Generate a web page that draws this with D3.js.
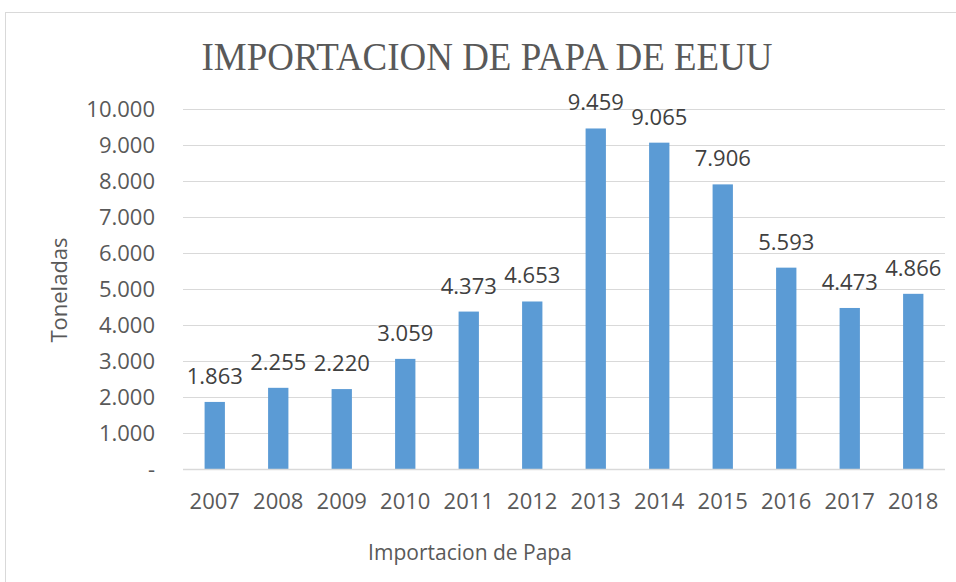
<!DOCTYPE html>
<html>
<head>
<meta charset="utf-8">
<script src="https://cdn.jsdelivr.net/npm/d3@7"></script>
<style>
  body { margin: 0; background: #fff; }
  svg { display: block; }
</style>
</head>
<body>
<div class="graph"></div>
<script>
const years = ["2007", "2008", "2009", "2010", "2011", "2012", "2013", "2014", "2015", "2016", "2017", "2018"];
const toneladas = [1863, 2255, 2220, 3059, 4373, 4653, 9459, 9065, 7906, 5593, 4473, 4866];
const yTicks = [0, 1000, 2000, 3000, 4000, 5000, 6000, 7000, 8000, 9000, 10000];

const plotVars = ({
    width: 956,
    height: 582,
    left: 183,
    right: 945,
    top: 109,
    bottom: 469
});

const fmt = v => v === 0 ? "-" : d3.format(",")(v).replace(/,/g, ".");

const svg = d3.select(".graph").append("svg")
    .attr("width", plotVars.width)
    .attr("height", plotVars.height);

// chart area border
svg.append("rect")
    .attr("x", 5.5).attr("y", 12.5)
    .attr("width", 1000).attr("height", 1000)
    .attr("fill", "none").attr("stroke", "#d9d9d9");

const x = d3.scaleBand().domain(years).range([plotVars.left, plotVars.right]).paddingInner(0.68).paddingOuter(0.34);
const y = d3.scaleLinear().domain([0, 10000]).range([plotVars.bottom, plotVars.top]);

// gridlines
svg.append("g")
    .selectAll("line")
    .data(yTicks.slice(1))
    .join("line")
    .attr("x1", plotVars.left).attr("x2", plotVars.right)
    .attr("y1", d => Math.round(y(d)) + 0.5).attr("y2", d => Math.round(y(d)) + 0.5)
    .attr("stroke", "#d9d9d9");

// y axis labels
const yAxis = svg.append("g")
    .attr("transform", `translate(${plotVars.left - 28},0)`)
    .call(d3.axisLeft(y).tickValues(yTicks).tickFormat(fmt).tickSize(0).tickPadding(0));
yAxis.select(".domain").remove();
yAxis.selectAll("text")
    .attr("font-family", "Open Sans").attr("font-size", 22).attr("fill", "#595959");

// bars
svg.append("g")
    .selectAll("rect")
    .data(toneladas)
    .join("rect")
    .attr("x", (d, i) => x(years[i]))
    .attr("width", x.bandwidth())
    .attr("y", d => y(d))
    .attr("height", d => y(0) - y(d))
    .attr("fill", "#5b9bd5");

// x axis line + labels
const xAxis = svg.append("g")
    .attr("transform", `translate(0,${plotVars.bottom})`)
    .call(d3.axisBottom(x).tickSize(0).tickPadding(24));
xAxis.select(".domain").attr("stroke", "#d9d9d9").attr("stroke-width", 1.5)
    .attr("d", `M${plotVars.left},0.5H${plotVars.right}`);
xAxis.selectAll("text")
    .attr("font-family", "Open Sans").attr("font-size", 22).attr("fill", "#595959");

// data labels
svg.append("g")
    .selectAll("text")
    .data(toneladas)
    .join("text")
    .attr("x", (d, i) => x(years[i]) + x.bandwidth() / 2)
    .attr("y", d => y(d) - 18)
    .attr("text-anchor", "middle")
    .attr("font-family", "Open Sans").attr("font-size", 22).attr("fill", "#404040")
    .text(fmt);

// title
svg.append("text")
    .attr("x", 487).attr("y", 70)
    .attr("text-anchor", "middle")
    .attr("font-family", "Liberation Serif").attr("font-size", 41).attr("fill", "#595959")
    .attr("textLength", 571).attr("lengthAdjust", "spacingAndGlyphs")
    .text("IMPORTACION DE PAPA DE EEUU");

// axis titles
svg.append("text")
    .attr("transform", "translate(67,290) rotate(-90)")
    .attr("text-anchor", "middle")
    .attr("font-family", "Open Sans").attr("font-size", 22).attr("fill", "#595959")
    .text("Toneladas");

svg.append("text")
    .attr("x", 470).attr("y", 560)
    .attr("text-anchor", "middle")
    .attr("font-family", "Open Sans").attr("font-size", 21).attr("fill", "#595959")
    .text("Importacion de Papa");
</script>
</body>
</html>
